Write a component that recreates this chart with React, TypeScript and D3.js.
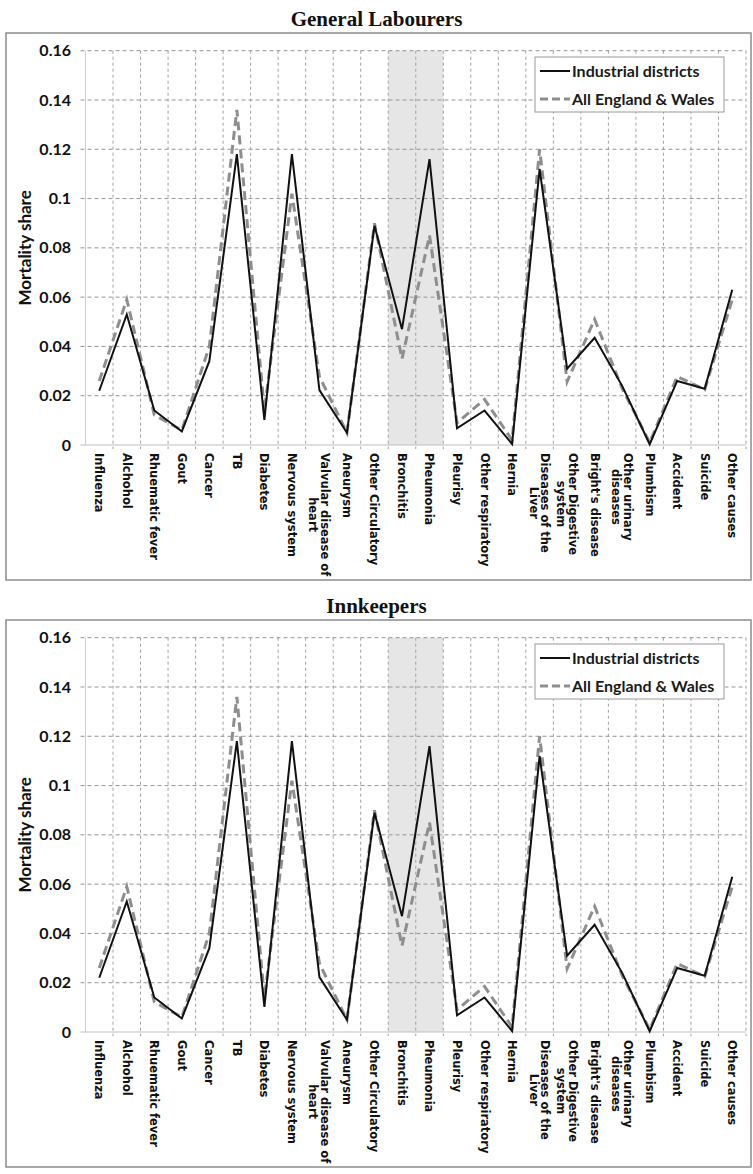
import React from "react";
import * as d3 from "d3";

const categories = [
  "Influenza", "Alchohol", "Rhuematic fever", "Gout", "Cancer", "TB", "Diabetes",
  "Nervous system", "Valvular disease of\nheart", "Aneurysm", "Other Circulatory",
  "Bronchitis", "Pheumonia", "Pleurisy", "Other respiratory", "Hernia",
  "Diseases of the\nLiver", "Other Digestive\nsystem", "Bright's disease",
  "Other urinary\ndiseases", "Plumbism", "Accident", "Suicide", "Other causes",
];

const industrial = [
  0.022, 0.053, 0.014, 0.0055, 0.034, 0.118, 0.0102, 0.118, 0.0223, 0.005, 0.089,
  0.047, 0.116, 0.0068, 0.014, 0.0004, 0.112, 0.031, 0.0435, 0.024, 0.0003, 0.026,
  0.0228, 0.063,
];

const englandWales = [
  0.026, 0.059, 0.0122, 0.006, 0.040, 0.136, 0.014, 0.102, 0.0278, 0.005, 0.090,
  0.035, 0.085, 0.009, 0.0185, 0.002, 0.120, 0.0257, 0.051, 0.023, 0.001, 0.0278,
  0.0225, 0.059,
];

const yTicks = [0, 0.02, 0.04, 0.06, 0.08, 0.1, 0.12, 0.14, 0.16];
const shaded = ["Bronchitis", "Pheumonia"];
const panels = ["General Labourers", "Innkeepers"];
const seriesNames = ["Industrial districts", "All England & Wales"];

const W = 753;
const H = 1174;
const PANEL_STEP = 587;

let ctx: CanvasRenderingContext2D | null = null;
function measure(text: string, font: string): number {
  if (!ctx) ctx = document.createElement("canvas").getContext("2d");
  if (!ctx) return text.length * 6;
  ctx.font = font;
  return ctx.measureText(text).width;
}

const LABEL_SIZE = 11.5;
const LABEL_FONT = `bold ${LABEL_SIZE}px 'DejaVu Sans'`;

function Panel({ title, oy }: { title: string; oy: number }) {
  const plotL = 85.5;
  const plotR = 746;
  const yTop = oy + 50.7;
  const yBot = oy + 445;
  const x = d3.scaleBand<string>().domain(categories).range([plotL, plotR]).padding(0);
  const y = d3.scaleLinear().domain([0, 0.16]).range([yBot, yTop]);
  const cx = (c: string) => (x(c) as number) + x.bandwidth() / 2;
  const line = d3
    .line<number>()
    .x((_, i) => cx(categories[i]))
    .y((d) => y(d));
  const boundaries = categories.map((c) => (x(c) as number) + x.bandwidth());
  const bandX0 = x(shaded[0]) as number;
  const bandX1 = (x(shaded[shaded.length - 1]) as number) + x.bandwidth();

  return (
    <g>
      <text
        x={W / 2}
        y={oy + 26}
        textAnchor="middle"
        fontFamily="'Liberation Serif', serif"
        fontWeight="bold"
        fontSize={21}
        fill="#111"
      >
        {title}
      </text>
      <rect x={6} y={oy + 33} width={745} height={547} fill="#fff" stroke="#8c8c8c" strokeWidth={1.5} />
      <rect x={bandX0} y={yTop} width={bandX1 - bandX0} height={yBot - yTop} fill="#e6e6e6" />
      {boundaries.map((bx, i) => (
        <line key={"v" + i} x1={bx} x2={bx} y1={yTop} y2={yBot + 4} stroke="#a0a0a0" strokeWidth={1} strokeDasharray="3,3" />
      ))}
      {yTicks.filter((t) => t > 0).map((t) => (
        <line key={"h" + t} x1={plotL - 5} x2={plotR} y1={y(t)} y2={y(t)} stroke="#959595" strokeWidth={1} strokeDasharray="4,3" />
      ))}
      <line x1={plotL} x2={plotL} y1={yTop} y2={yBot} stroke="#cfcfcf" strokeWidth={1} />
      <line x1={plotL - 5} x2={plotR} y1={yBot} y2={yBot} stroke="#bfbfbf" strokeWidth={1.2} />
      {yTicks.map((t) => (
        <text
          key={"yt" + t}
          x={71}
          y={y(t)}
          dy="0.35em"
          textAnchor="end"
          fontFamily="Lato, sans-serif"
          fontWeight="bold"
          fontSize={16}
          fill="#111"
        >
          {String(t)}
        </text>
      ))}
      <text
        transform={`translate(25,${(yTop + yBot) / 2}) rotate(-90)`}
        textAnchor="middle"
        dy="0.35em"
        fontFamily="Lato, sans-serif"
        fontWeight="bold"
        fontSize={17}
        fill="#111"
      >
        Mortality share
      </text>
      {categories.map((c, i) => {
        const lines = c.split("\n");
        const maxW = Math.max(...lines.map((l) => measure(l, LABEL_FONT)));
        const lh = 11.8;
        const ly = yBot + 8 + maxW / 2;
        return (
          <g key={"cl" + i}>
            {lines.map((l, j) => {
              const lx = cx(c) + ((lines.length - 1) / 2) * lh - j * lh;
              return (
                <text
                  key={j}
                  transform={`translate(${lx},${ly}) rotate(90)`}
                  textAnchor="middle"
                  dy="0.35em"
                  fontFamily="'DejaVu Sans', sans-serif"
                  fontWeight="bold"
                  fontSize={LABEL_SIZE}
                  fill="#111"
                >
                  {l}
                </text>
              );
            })}
          </g>
        );
      })}
      <path d={line(englandWales) || ""} fill="none" stroke="#8e8e8e" strokeWidth={3} strokeDasharray="9,5" />
      <path d={line(industrial) || ""} fill="none" stroke="#111" strokeWidth={2} />
      <g>
        <rect x={535} y={oy + 57} width={189} height={55} fill="#fff" stroke="#9a9a9a" strokeWidth={1} />
        <line x1={540} x2={570} y1={oy + 71} y2={oy + 71} stroke="#111" strokeWidth={2} />
        <line x1={540} x2={570} y1={oy + 99} y2={oy + 99} stroke="#8e8e8e" strokeWidth={3} strokeDasharray="8,4" />
        {seriesNames.map((s, i) => (
          <text
            key={s}
            x={572}
            y={oy + 71 + i * 28}
            dy="0.35em"
            fontFamily="Lato, sans-serif"
            fontWeight="bold"
            fontSize={16}
            fill="#1a1a1a"
          >
            {s}
          </text>
        ))}
      </g>
    </g>
  );
}

export default function App() {
  return (
    <svg
      width={W}
      height={H}
      viewBox={`0 0 ${W} ${H}`}
      style={{ position: "absolute", left: 0, top: 0, background: "#fff" }}
    >
      {panels.map((p, i) => (
        <Panel key={p} title={p} oy={i * PANEL_STEP} />
      ))}
    </svg>
  );
}
